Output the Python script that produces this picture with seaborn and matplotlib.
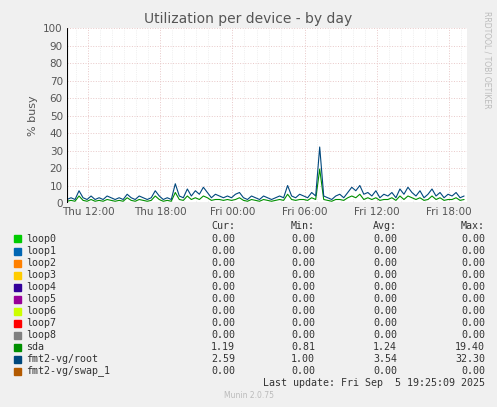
import matplotlib
matplotlib.use("Agg")
import matplotlib.pyplot as plt
import seaborn as sns
import pandas as pd
import numpy as np

sns.set_style("white")
plt.rcParams['font.family'] = ['DejaVu Sans']

# 20-minute samples starting Thu 10:15 (hours since Thu 00:00)
start_h = 10.25
step_h = 1/3
root = [2,3,2,7,3,2,4,2,3,2,4,3,2,3,2,5,3,2,4,3,2,3,7,4,2,3,2,11,4,3,8,4,7,5,9,6,3,5,4,3,
        4,3,5,6,3,2,4,3,2,4,3,2,3,4,3,10,4,3,5,4,3,6,4,32,4,3,2,4,5,3,6,9,7,10,5,6,4,7,3,5,
        4,6,3,8,5,9,6,4,7,3,5,8,4,6,3,5,4,6,3,4]
sda = [1,1.5,1,4,1.5,1,2,1,1.5,1,2,1.5,1,1.5,1,3,1.5,1,2,1.5,1,1.5,4,2,1,1.5,1,6,2,1.5,4,2,3,2,4,3,1.5,2,2,1.5,
       2,1.5,2,3,1.5,1,2,1.5,1,2,1.5,1,1.5,2,1.5,5,2,1.5,2,2,1.5,3,2,19.4,2,1.5,1,2,2,1.5,3,4,3,5,2,3,2,3,1.5,2,
       2,3,1.5,4,2,4,3,2,3,1.5,2,4,2,3,1.5,2,2,3,1.5,2]
hours = [start_h + i*step_h for i in range(len(root))]

names = ["loop0","loop1","loop2","loop3","loop4","loop5","loop6","loop7","loop8","sda","fmt2-vg/root","fmt2-vg/swap_1"]
colors = ["#00CC00","#0066B3","#FF8000","#FFCC00","#330099","#990099","#CCFF00","#FF0000","#808080","#008F00","#00487D","#B35A00"]
cur = ["0.00"]*9 + ["1.19","2.59","0.00"]
mn = ["0.00"]*9 + ["0.81","1.00","0.00"]
avg = ["0.00"]*9 + ["1.24","3.54","0.00"]
mx = ["0.00"]*9 + ["19.40","32.30","0.00"]
xticks = [12, 18, 24, 30, 36, 42]
xlabels = ["Thu 12:00","Thu 18:00","Fri 00:00","Fri 06:00","Fri 12:00","Fri 18:00"]

fig = plt.figure(figsize=(4.97,4.07), dpi=100, facecolor="#F0F0F0")
ax = fig.add_axes([67/497, 1-203/407, 400/497, 175/407])
ax.set_facecolor("white")
df = pd.DataFrame({"h": hours, "root": root, "sda": sda})
sns.lineplot(data=df, x="h", y="sda", color=colors[9], lw=0.8, ax=ax)
sns.lineplot(data=df, x="h", y="root", color=colors[10], lw=0.8, ax=ax)
ax.set_xlim(start_h, start_h + 400/72.2*6)
ax.set_ylim(0, 100)
ax.set_yticks(range(0, 101, 10))
ax.set_xticks(xticks)
ax.set_xticklabels(xlabels)
ax.set_xticks(np.arange(11, 44, 1), minor=True)
ax.set_yticks(range(0, 101, 5), minor=True)
ax.grid(True, which="major", color="#E8C8C8", ls=":", lw=0.7)
ax.grid(True, which="minor", axis="x", color="#E4E4E4", ls=":", lw=0.5)
ax.tick_params(labelsize=7.5, colors="#555555", length=0, pad=3)
for s in ax.spines.values():
    s.set_visible(False)
ax.axhline(0, color="black", lw=0.8)
ax.axvline(start_h, color="black", lw=0.8)
ax.set_xlabel("")
ax.set_ylabel("% busy", fontsize=8, color="#555555")
fig.text(0.5, 1-19/407, "Utilization per device - by day", ha="center", va="center", fontsize=10, color="#555555")
fig.text(487/497, 1-60/407, "RRDTOOL / TOBI OETIKER", rotation=270, ha="center", va="center", fontsize=5.5, color="#BBBBBB")

mono = dict(family="DejaVu Sans Mono", fontsize=7.2, color="#333333", va="center")
def yy(px): return 1 - px/407
fig.text(235/497, yy(226), "Cur:", ha="right", **mono)
fig.text(315/497, yy(226), "Min:", ha="right", **mono)
fig.text(397/497, yy(226), "Avg:", ha="right", **mono)
fig.text(485/497, yy(226), "Max:", ha="right", **mono)
for i, n in enumerate(names):
    y = 239 + i*12.0
    fig.patches.append(plt.Rectangle((14/497, yy(y+3.5)), 7/497, 7/407, transform=fig.transFigure, color=colors[i]))
    fig.text(26/497, yy(y), n, ha="left", **mono)
    fig.text(235/497, yy(y), cur[i], ha="right", **mono)
    fig.text(315/497, yy(y), mn[i], ha="right", **mono)
    fig.text(397/497, yy(y), avg[i], ha="right", **mono)
    fig.text(485/497, yy(y), mx[i], ha="right", **mono)
fig.text(485/497, yy(383), "Last update: Fri Sep  5 19:25:09 2025", ha="right", **mono)
fig.text(0.5, yy(396), "Munin 2.0.75", ha="center", va="center", fontsize=5.5, color="#BBBBBB")
fig.savefig("out.png", dpi=100, facecolor=fig.get_facecolor())
